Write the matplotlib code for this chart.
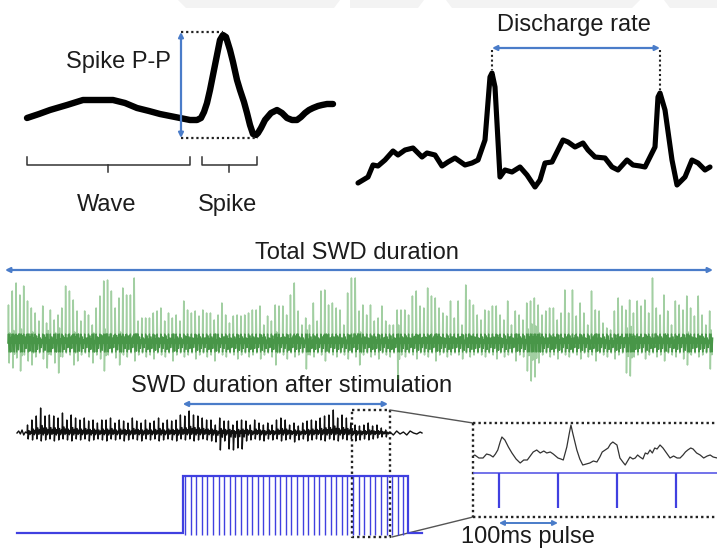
import numpy as np
import matplotlib
matplotlib.use('Agg')
import matplotlib.pyplot as plt
from matplotlib.patches import Polygon

W, H = 717, 548
FONT = 'Liberation Sans'
TXT = '#1c1c1c'
ARROW = '#4a7cc9'
PULSE = '#4040e0'
GREEN = '#46a046'
GREEN_DARK = '#2a842a'

# ---------------- data ----------------
# Panel A: one spike-wave complex (time, amplitude)
WAVE_T = [0, 12, 23, 40, 56, 70, 86, 98, 110, 122, 133, 143, 153, 163, 170, 174, 177, 180,
          183, 186, 190, 193, 196, 199, 203, 206, 210, 213, 217, 220, 223, 226, 229, 231,
          234, 238, 244, 250, 255, 260, 265, 270, 274, 278, 282, 286, 291, 295, 300, 306]
WAVE_V = [22, 26, 30, 35, 40, 40, 40, 37, 32, 29, 26, 24, 22, 20, 20, 22, 28, 37,
          50, 65, 85, 100, 105, 103, 90, 78, 60, 50, 38, 27, 15, 6, 5, 7,
          12, 20, 27, 30, 27, 22, 20, 20, 23, 27, 30, 32, 34, 35, 36, 36]

# Panel B: two consecutive discharges
DIS_T = [3, 13, 18, 23, 30, 38, 43, 50, 58, 67, 72, 80, 87, 93, 100, 110, 117, 123, 130,
         135, 137, 140, 145, 150, 157, 165, 172, 180, 185, 190, 197, 208, 213, 220, 228,
         233, 240, 250, 257, 263, 272, 278, 285, 290, 295, 300, 303, 305, 310, 317, 322,
         330, 337, 343, 350, 355]
DIS_V = [17, 23, 35, 34, 40, 49, 45, 50, 52, 43, 47, 45, 34, 38, 42, 35, 37, 40, 60,
         123, 127, 113, 23, 30, 28, 33, 25, 13, 20, 37, 38, 60, 58, 53, 57,
         50, 43, 42, 33, 30, 40, 35, 34, 33, 43, 53, 103, 107, 90, 40, 15,
         23, 40, 37, 30, 33]

# Total SWD recording: spike heights (up) and negative deflections (down)
TOTAL_UP = [38, 52, 60, 48, 57, 42, 35, 30, 22, 37, 20, 33, 23, 28, 35, 57, 52, 43, 32, 22,
            32, 28, 18, 35, 47, 62, 63, 52, 35, 45, 55, 48, 48, 65, 22, 25, 25, 25, 30, 32,
            35, 22, 30, 25, 28, 22, 42, 33, 30, 32, 27, 33, 30, 30, 23, 28, 40, 28, 20, 27,
            28, 27, 28, 30, 33, 33, 37,
            18, 27, 22, 38, 37, 37, 28, 48, 60, 32, 18, 25, 18, 40, 22, 52, 53, 38, 40, 35,
            33, 18, 50, 65, 65, 32, 38, 28, 38, 22, 25, 37, 22, 18, 18, 33, 33, 33, 28, 47,
            52, 37, 35, 55, 47, 45, 35, 30, 27, 42, 25, 42, 18, 58, 43, 38, 28, 23,
            33, 32, 37, 37, 28, 23, 42, 18, 32, 28, 23, 40, 42, 45, 38, 28, 32, 35, 35, 23,
            30, 53, 30, 53, 27, 40, 30, 18, 52, 33, 32, 20, 15, 13, 32, 45, 37, 33, 43, 30,
            42, 37, 43, 30, 65, 35, 28, 48, 32, 18, 42, 38, 33, 47, 35, 27, 47, 28, 18, 32]
TOTAL_DN = [20, 25, 15, 28, 12, 18, 22, 14, 10, 16, 25, 12, 20, 30, 14, 10, 12, 22, 18, 12,
            10, 14, 20, 12, 16, 28, 12, 10, 15, 22, 12, 14, 10, 18, 12, 10, 14, 12, 16, 10,
            12, 14, 10, 18, 12, 10, 14, 12, 10, 16, 12, 10, 14, 12, 18, 10, 12, 14, 10, 12,
            16, 12, 10, 14, 12, 10, 16,
            12, 10, 14, 22, 10, 12, 16, 10, 14, 12, 10, 26, 12, 14, 10, 12, 18, 10, 12, 14,
            10, 12, 16, 10, 14, 22, 12, 10, 14, 12, 16, 10, 12, 14, 10, 36, 12, 14, 10, 12,
            16, 10, 12, 14, 10, 18, 12, 10, 14, 12, 10, 12, 16, 10, 14, 12, 10, 12,
            14, 10, 12, 16, 10, 14, 12, 10, 18, 12, 14, 28, 38, 34, 20, 12, 10, 14, 12, 16,
            10, 12, 14, 10, 12, 16, 10, 14, 12, 18, 10, 12, 14, 10, 16, 12, 10, 30, 33, 14,
            12, 10, 16, 12, 10, 14, 12, 18, 10, 12, 14, 10, 16, 22, 12, 10, 14, 12, 10, 26]

# Stimulated SWD (ms time base)
SWD_T0, SWD_PERIOD = 180, 78
SWD_UP = [8, 13, 17, 25, 17, 18, 17, 15, 20, 13, 18, 15, 13, 15, 12, 13, 10, 13, 13, 15,
          10, 13, 12, 10, 15, 12, 10, 13, 10, 12, 15, 10, 13, 12, 13, 18, 17, 22, 18, 17,
          15, 13, 13, 8, 15, 12,
          12, 8, 12, 13, 12, 8, 13, 10, 8, 10, 8, 13, 15, 13, 8, 10, 7, 10, 12, 13,
          12, 15, 17, 18, 23, 15, 18, 15, 10, 8, 7, 8, 10, 7, 8, 5, 3]
SWD_DN = [6, 7, 6, 8, 7, 6, 8, 7, 6, 7, 8, 6, 7, 6, 8, 7, 6, 7, 8, 6,
          7, 6, 8, 7, 6, 7, 8, 6, 7, 6, 8, 7, 6, 7, 8, 6, 7, 6, 8, 7,
          6, 7, 8, 9, 17, 8,
          16, 17, 15, 16, 8, 7, 6, 7, 8, 6, 7, 6, 8, 7, 6, 9, 7, 6, 8, 7,
          6, 7, 8, 6, 7, 8, 6, 7, 6, 8, 7, 6, 7, 6, 5, 4, 4]
SWD_LEAD_T = [0, 30, 60, 90, 120, 150]
SWD_LEAD_V = [0, 2, -1, 3, -2, 1]
SWD_TAIL_T = [6660, 6720, 6780, 6840, 6900, 6960, 7020, 7080, 7140, 7200, 7232]
SWD_TAIL_V = [1, -2, 2, -1, 1, -2, 2, 0, -1, 1, 0]

# Stimulation
STIM_ON, STIM_OFF, TRACE_END = 2960, 6980, 7232
PULSE_T = [3000, 3100, 3200, 3300, 3400, 3500, 3600, 3700, 3800, 3900,
           4000, 4100, 4200, 4300, 4400, 4500, 4600, 4700, 4800, 4900,
           5000, 5100, 5200, 5300, 5400, 5500, 5600, 5700, 5800, 5900,
           6000, 6100, 6200, 6300, 6400, 6500, 6600, 6700, 6800, 6900]

# Zoomed segment (ms)
ZOOM_T = [0, 3, 10, 17, 23, 29, 34, 38, 42, 46, 49, 54, 60, 66, 73, 80, 86, 92, 97, 102,
          108, 114, 120, 125, 131, 136, 140, 144, 149, 153, 159, 163, 166, 169, 176, 181,
          186, 192, 198, 204, 210, 215, 219, 224, 229, 233, 237, 244, 249, 254, 258, 262,
          266, 271, 275, 279, 283, 288, 292, 296, 300, 304, 308, 312, 317, 322, 328, 334,
          340, 346, 351, 356, 360, 364, 369, 373, 379, 385, 391, 397, 402, 407, 414]
ZOOM_V = [14, 15, 12, 12, 16, 15, 13, 16, 20, 28, 33, 30, 23, 17, 11, 7, 10, 10, 14, 18,
          20, 17, 19, 17, 18, 16, 14, 12, 11, 10, 23, 36, 45, 37, 20, 11,
          5, 6, 7, 9, 8, 13, 18, 20, 22, 26, 28, 25, 12, 8, 5, 9,
          13, 11, 12, 15, 13, 11, 17, 16, 20, 17, 22, 21, 25, 22, 17, 12,
          14, 12, 12, 15, 18, 20, 22, 21, 17, 15, 12, 14, 15, 13, 12]
ZOOM_PULSE_T = [44, 144, 244, 344]

# ---------------- figure ----------------
fig = plt.figure(figsize=(W / 100, H / 100), dpi=100)


def px_axes(x0, y0, x1, y1):
    a = fig.add_axes([x0 / W, 1 - y1 / H, (x1 - x0) / W, (y1 - y0) / H])
    a.set_axis_off()
    a.patch.set_alpha(0)
    return a


ov = fig.add_axes([0, 0, 1, 1])
ov.set_xlim(0, W)
ov.set_ylim(H, 0)
ov.set_axis_off()

# faint watermark band at top
for poly in [[(178, 0), (340, 0), (334, 8), (186, 8)],
             [(350, 0), (424, 0), (418, 8), (350, 8)],
             [(446, 0), (640, 0), (632, 8), (452, 8)],
             [(664, 0), (717, 0), (717, 8), (670, 8)]]:
    ov.add_patch(Polygon(poly, closed=True, color='#f3f3f3', lw=0, zorder=0))

FS = 17


def txt(x, y, s, size=FS):
    ov.text(x, y, s, ha='center', va='center', fontsize=size, family=FONT, color=TXT, zorder=5)


def darrow(a, x1, y1, x2, y2, color=ARROW, lw=1.6):
    a.annotate('', xy=(x2, y2), xytext=(x1, y1), annotation_clip=False,
               arrowprops=dict(arrowstyle='<|-|>', color=color, lw=lw, mutation_scale=7,
                               shrinkA=0, shrinkB=0))

# ---- Panel A ----
axA = px_axes(20, 20, 340, 150)
axA.set_xlim(-7, 313)
axA.set_ylim(-10, 120)
axA.plot(WAVE_T, WAVE_V, color='black', lw=4.6, solid_joinstyle='round', solid_capstyle='round')
vmax = max(WAVE_V) + 3
vmin = min(WAVE_V) - 3
t_pk = WAVE_T[int(np.argmax(WAVE_V))]
t_tr = WAVE_T[int(np.argmin(WAVE_V))]
t_on = 154
axA.plot([t_on, t_pk], [vmax, vmax], ls=(0, (1, 1.3)), color='#222', lw=1.6)
axA.plot([t_on, t_tr + 2], [vmin, vmin], ls=(0, (1, 1.3)), color='#222', lw=1.6)
darrow(axA, t_on, vmin, t_on, vmax)
txt(118, 62, 'Spike P-P')

# brackets
for x0, xc, x1 in [(27, 108, 190), (202, 229, 257)]:
    ov.plot([x0, x0, x1, x1], [157, 165, 165, 157], color='#333', lw=1.1)
    ov.plot([xc, xc], [165, 172], color='#333', lw=1.1)
txt(107, 205, 'Wave')
txt(228, 205, 'Spike')

# ---- Panel B ----
axB = px_axes(350, 0, 717, 200)
axB.set_xlim(-5, 362)
axB.set_ylim(0, 200)
axB.plot(DIS_T, DIS_V, color='black', lw=3.7, solid_joinstyle='round', solid_capstyle='round')
pk1 = int(np.argmax(DIS_V[:30]))
pk2 = 30 + int(np.argmax(DIS_V[30:]))
yarr = 152
for k in (pk1, pk2):
    axB.plot([DIS_T[k], DIS_T[k]], [yarr - 2, DIS_V[k] + 3], ls=(0, (1, 1.3)), color='#222', lw=1.5)
darrow(axB, DIS_T[pk1], yarr, DIS_T[pk2], yarr)
txt(574, 25, 'Discharge rate')

# ---- Total SWD (green) ----
N = len(TOTAL_UP)
p = 705 / N
axG = px_axes(0, 270, 717, 410)
axG.set_xlim(-8 / p, (717 - 8) / p)
axG.set_ylim(-67, 73)
gx, gy = [], []
for i, (u, d) in enumerate(zip(TOTAL_UP, TOTAL_DN)):
    gx += [i, i + 0.12, i + 0.3, i + 0.5, i + 0.72, i + 0.88]
    gy += [0, u, -d, 0.5 * d, -0.45 * d, 0.15 * u]
gy = np.array(gy)
axG.plot(gx, gy, color=GREEN, lw=1.1, alpha=0.5)
axG.plot(gx, np.clip(gy, -9, 9), color=GREEN_DARK, lw=1.0, alpha=0.75)
darrow(ov, 5, 270, 713, 270)
txt(357, 253, 'Total SWD duration')

# ---- Stimulated SWD (black) and pulses ----
PXMS = 0.056
axK = px_axes(0, 400, 470, 460)
axK.set_xlim(-17 / PXMS, (470 - 17) / PXMS)
axK.set_ylim(-27, 33)
kx, ky = list(SWD_LEAD_T), list(SWD_LEAD_V)
for i, (u, d) in enumerate(zip(SWD_UP, SWD_DN)):
    t = SWD_T0 + i * SWD_PERIOD
    P = SWD_PERIOD
    kx += [t, t + 0.1 * P, t + 0.25 * P, t + 0.45 * P, t + 0.7 * P, t + 0.85 * P]
    ky += [0, u, -d, 0.3 * u, -0.25 * d, 0.2 * u]
kx += SWD_TAIL_T
ky += SWD_TAIL_V
axK.plot(kx, ky, color='#111', lw=1.0)

axP = px_axes(0, 460, 470, 548)
axP.set_xlim(-17 / PXMS, (470 - 17) / PXMS)
axP.set_ylim((533 - 548) / 57, (533 - 460) / 57)
axP.plot([0, STIM_ON, STIM_ON, STIM_OFF, STIM_OFF, TRACE_END], [0, 0, 1, 1, 0, 0],
         color=PULSE, lw=1.6, solid_joinstyle='miter')
axP.vlines(PULSE_T, -0.04, 1, color=PULSE, lw=1.0)

swd_end = SWD_T0 + (len(SWD_UP) - 1) * SWD_PERIOD
darrow(axK, STIM_ON, 29, swd_end + 50, 29)
txt(292, 386, 'SWD duration after stimulation')

# dotted selection box and connectors
dot = dict(ls=(0, (1, 1.3)), color='#222', lw=1.7)
ov.plot([352, 390, 390, 352, 352], [410, 410, 537, 537, 410], **dot)
ov.plot([390, 473], [410, 423], color='#555', lw=1.0)
ov.plot([392, 473], [537, 517], color='#555', lw=1.0)

# ---- Zoom panel ----
axZ = px_axes(473, 423, 717, 517)
axZ.set_xlim(0, 244 / 0.59)
axZ.set_ylim(-47, 47)
axZ.plot(ZOOM_T, ZOOM_V, color='#333', lw=0.9)
axZ.plot([0, 414], [-3, -3], color='#5a5ae6', lw=1.2)
axZ.vlines(ZOOM_PULSE_T, -38, -3, color=PULSE, lw=1.6)
ov.plot([473, 717], [423, 423], **dot)
ov.plot([473, 717], [517, 517], **dot)
ov.plot([473, 473], [423, 517], **dot)
darrow(axZ, ZOOM_PULSE_T[0], -53, ZOOM_PULSE_T[1], -53, lw=1.4)
txt(528, 537, '100ms pulse')

fig.savefig('out.png', dpi=100)
